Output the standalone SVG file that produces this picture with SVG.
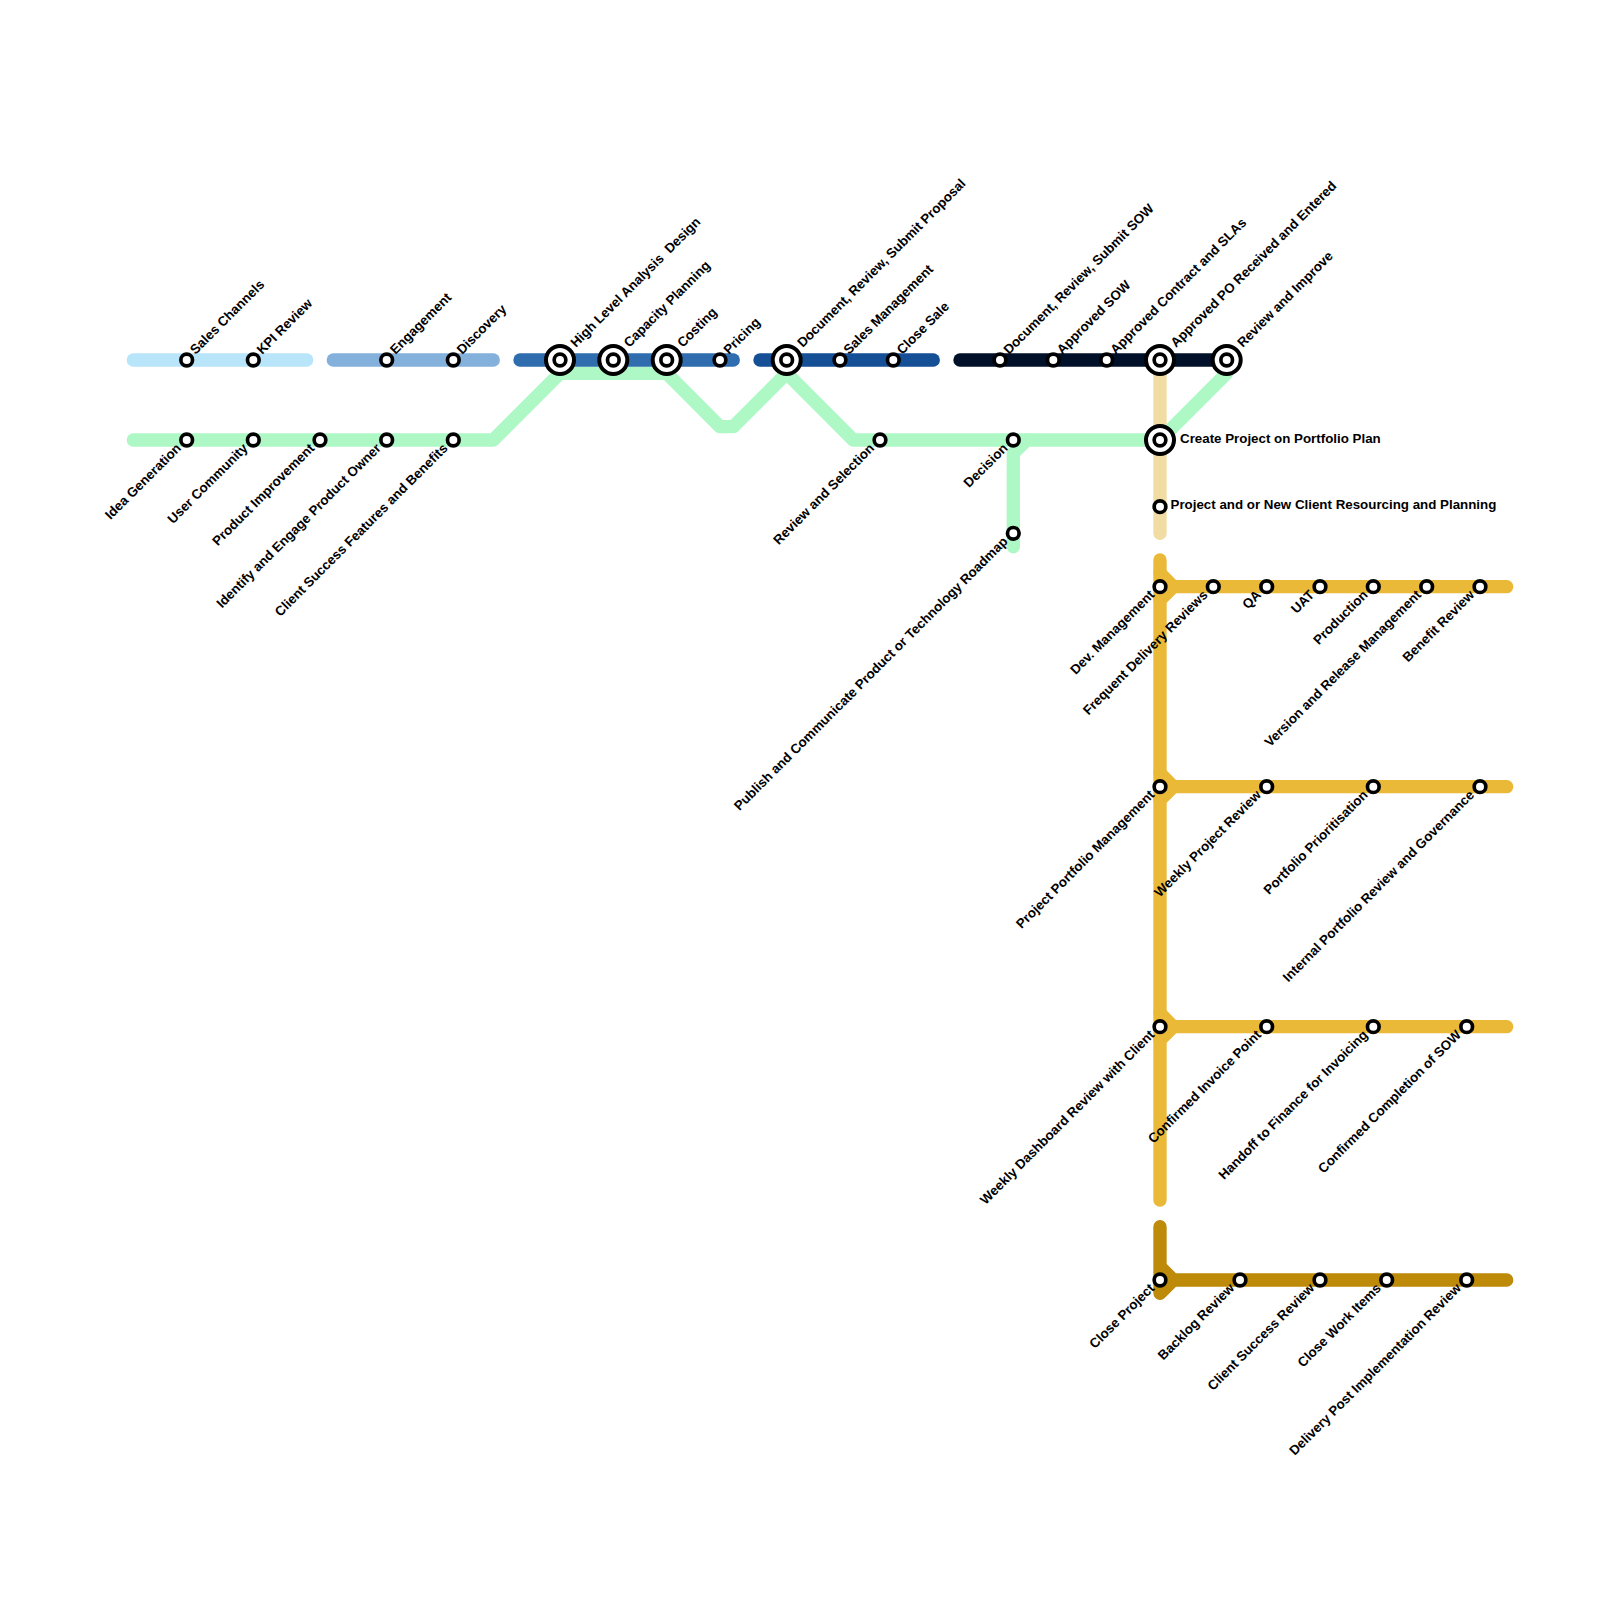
<svg xmlns="http://www.w3.org/2000/svg" width="1600" height="1600" viewBox="0 0 1600 1600">
<style>
.l{fill:none;stroke-width:13.33;stroke-linecap:round;stroke-linejoin:round}
.s{fill:#fff;stroke:#000;stroke-width:3.67}
.r{fill:#fff;stroke:#000;stroke-width:4}
text{font-family:"Liberation Sans",Arial,sans-serif;font-size:13.33px;font-weight:700;fill:#000;white-space:pre}
.e{text-anchor:end}
</style>
<defs>
<g id="st"><circle class="s" r="5.83"/></g>
<g id="big"><circle class="r" r="14"/><circle class="s" r="5.83"/></g>
</defs>
<rect width="1600" height="1600" fill="#fff"/>
<g id="connectors">
<path class="l" stroke="#f1dca3" d="M1160 360V533.3"/>
<path class="l" stroke="#aef8c6" d="M133.3 440H493.3L560 373.3H666.7L720 426.7H733.3L786.7 373.3L853.3 440H1160L1226.7 373.3"/>
<path class="l" stroke="#aef8c6" d="M1026.7 440L1013.3 453.3V546.7"/>
<path class="l" stroke="#b9e5fb" d="M133.3 360H306.7"/>
<path class="l" stroke="#84b1db" d="M333.3 360H493.3"/>
<path class="l" stroke="#2f6dae" d="M520 360H733.3"/>
<path class="l" stroke="#154f96" d="M760 360H933.3"/>
<path class="l" stroke="#001029" d="M960 360H1226.7"/>
<path class="l" stroke="#ebb938" d="M1160 560V1200"/>
<path class="l" stroke="#ebb938" d="M1160 573.3L1173.3 586.7L1160 600M1173.3 586.7H1506.7"/>
<path class="l" stroke="#ebb938" d="M1160 773.3L1173.3 786.7L1160 800M1173.3 786.7H1506.7"/>
<path class="l" stroke="#ebb938" d="M1160 1013.3L1173.3 1026.7L1160 1040M1173.3 1026.7H1506.7"/>
<path class="l" stroke="#bd8a09" d="M1160 1226.7V1293.3L1173.3 1280L1160 1266.7M1173.3 1280H1506.7"/>
</g>
<g id="n1"><use href="#st" x="186.7" y="360"/><text transform="translate(195.5 355) rotate(-45)">Sales Channels</text></g>
<g id="n2"><use href="#st" x="253.3" y="360"/><text transform="translate(262.2 355) rotate(-45)">KPI Review</text></g>
<g id="n3"><use href="#st" x="386.7" y="360"/><text transform="translate(395.5 355) rotate(-45)">Engagement</text></g>
<g id="n4"><use href="#st" x="453.3" y="360"/><text transform="translate(462.2 355) rotate(-45)">Discovery</text></g>
<g id="n5"><use href="#big" x="560" y="360"/><text transform="translate(576 348) rotate(-45)">High Level Analysis  Design</text></g>
<g id="n6"><use href="#big" x="613.3" y="360"/><text transform="translate(629.3 348) rotate(-45)">Capacity Planning</text></g>
<g id="n7"><use href="#big" x="666.7" y="360"/><text transform="translate(682.7 348) rotate(-45)">Costing</text></g>
<g id="n8"><use href="#st" x="720" y="360"/><text transform="translate(729 355) rotate(-45)">Pricing</text></g>
<g id="n9"><use href="#big" x="786.7" y="360"/><text transform="translate(802.7 348) rotate(-45)">Document, Review, Submit Proposal</text></g>
<g id="n10"><use href="#st" x="840" y="360"/><text transform="translate(849 355) rotate(-45)">Sales Management</text></g>
<g id="n11"><use href="#st" x="893.3" y="360"/><text transform="translate(902.3 355) rotate(-45)">Close Sale</text></g>
<g id="n12"><use href="#st" x="1000" y="360"/><text transform="translate(1009 355) rotate(-45)">Document, Review, Submit SOW</text></g>
<g id="n13"><use href="#st" x="1053.3" y="360"/><text transform="translate(1062.3 355) rotate(-45)">Approved SOW</text></g>
<g id="n14"><use href="#st" x="1106.7" y="360"/><text transform="translate(1115.7 355) rotate(-45)">Approved Contract and SLAs</text></g>
<g id="n15"><use href="#big" x="1160" y="360"/><text transform="translate(1176 348) rotate(-45)">Approved PO Received and Entered</text></g>
<g id="n16"><use href="#big" x="1226.7" y="360"/><text transform="translate(1242.7 348) rotate(-45)">Review and Improve</text></g>
<g id="n17"><use href="#st" x="186.7" y="440"/><text class="e" transform="translate(181.7 449) rotate(-45)">Idea Generation</text></g>
<g id="n18"><use href="#st" x="253.3" y="440"/><text class="e" transform="translate(248.4 449) rotate(-45)">User Community</text></g>
<g id="n19"><use href="#st" x="320" y="440"/><text class="e" transform="translate(315.1 449) rotate(-45)">Product Improvement</text></g>
<g id="n20"><use href="#st" x="386.7" y="440"/><text class="e" transform="translate(381.7 449) rotate(-45)">Identify and Engage Product Owner</text></g>
<g id="n21"><use href="#st" x="453.3" y="440"/><text class="e" transform="translate(448.4 449) rotate(-45)">Client Success Features and Benefits</text></g>
<g id="n22"><use href="#st" x="880" y="440"/><text class="e" transform="translate(875.1 449) rotate(-45)">Review and Selection</text></g>
<g id="n23"><use href="#st" x="1013.3" y="440"/><text class="e" transform="translate(1008.4 449) rotate(-45)">Decision</text></g>
<g id="n24"><use href="#st" x="1013.3" y="533.3"/><text class="e" transform="translate(1008.4 542.3) rotate(-45)">Publish and Communicate Product or Technology Roadmap</text></g>
<g id="n25"><use href="#big" x="1160" y="440"/><text x="1180" y="443">Create Project on Portfolio Plan</text></g>
<g id="n26"><use href="#st" x="1160" y="506.7"/><text x="1170.5" y="509">Project and or New Client Resourcing and Planning</text></g>
<g id="n27"><use href="#st" x="1160" y="586.7"/><text class="e" transform="translate(1155.1 595.7) rotate(-45)">Dev. Management</text></g>
<g id="n28"><use href="#st" x="1213.3" y="586.7"/><text class="e" transform="translate(1208.4 595.7) rotate(-45)">Frequent Delivery Reviews</text></g>
<g id="n29"><use href="#st" x="1266.7" y="586.7"/><text class="e" transform="translate(1261.8 595.7) rotate(-45)">QA</text></g>
<g id="n30"><use href="#st" x="1320" y="586.7"/><text class="e" transform="translate(1315.1 595.7) rotate(-45)">UAT</text></g>
<g id="n31"><use href="#st" x="1373.3" y="586.7"/><text class="e" transform="translate(1368.4 595.7) rotate(-45)">Production</text></g>
<g id="n32"><use href="#st" x="1426.7" y="586.7"/><text class="e" transform="translate(1421.8 595.7) rotate(-45)">Version and Release Management</text></g>
<g id="n33"><use href="#st" x="1480" y="586.7"/><text class="e" transform="translate(1475.1 595.7) rotate(-45)">Benefit Review</text></g>
<g id="n34"><use href="#st" x="1160" y="786.7"/><text class="e" transform="translate(1155.1 795.7) rotate(-45)">Project Portfolio Management</text></g>
<g id="n35"><use href="#st" x="1266.7" y="786.7"/><text class="e" transform="translate(1261.8 795.7) rotate(-45)">Weekly Project Review</text></g>
<g id="n36"><use href="#st" x="1373.3" y="786.7"/><text class="e" transform="translate(1368.4 795.7) rotate(-45)">Portfolio Prioritisation</text></g>
<g id="n37"><use href="#st" x="1480" y="786.7"/><text class="e" transform="translate(1475.1 795.7) rotate(-45)">Internal Portfolio Review and Governance</text></g>
<g id="n38"><use href="#st" x="1160" y="1026.7"/><text class="e" transform="translate(1155.1 1035.7) rotate(-45)">Weekly Dashboard Review with Client</text></g>
<g id="n39"><use href="#st" x="1266.7" y="1026.7"/><text class="e" transform="translate(1261.8 1035.7) rotate(-45)">Confirmed Invoice Point</text></g>
<g id="n40"><use href="#st" x="1373.3" y="1026.7"/><text class="e" transform="translate(1368.4 1035.7) rotate(-45)">Handoff to Finance for Invoicing</text></g>
<g id="n41"><use href="#st" x="1466.7" y="1026.7"/><text class="e" transform="translate(1461.8 1035.7) rotate(-45)">Confirmed Completion of SOW</text></g>
<g id="n42"><use href="#st" x="1160" y="1280"/><text class="e" transform="translate(1155.1 1289) rotate(-45)">Close Project</text></g>
<g id="n43"><use href="#st" x="1240" y="1280"/><text class="e" transform="translate(1235.1 1289) rotate(-45)">Backlog Review</text></g>
<g id="n44"><use href="#st" x="1320" y="1280"/><text class="e" transform="translate(1315.1 1289) rotate(-45)">Client Success Review</text></g>
<g id="n45"><use href="#st" x="1386.7" y="1280"/><text class="e" transform="translate(1381.8 1289) rotate(-45)">Close Work Items</text></g>
<g id="n46"><use href="#st" x="1466.7" y="1280"/><text class="e" transform="translate(1461.8 1289) rotate(-45)">Delivery Post Implementation Review</text></g>
</svg>
